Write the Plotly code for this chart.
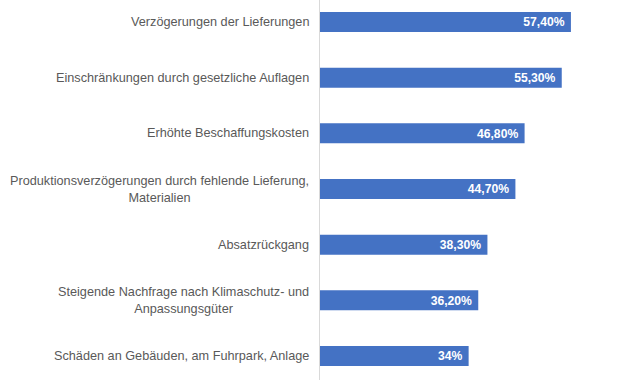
import plotly.graph_objects as go

categories = [
    "Verzögerungen der Lieferungen",
    "Einschränkungen durch gesetzliche Auflagen",
    "Erhöhte Beschaffungskosten",
    "Produktionsverzögerungen durch fehlende Lieferung,<br>Materialien",
    "Absatzrückgang",
    "Steigende Nachfrage nach Klimaschutz- und<br>Anpassungsgüter",
    "Schäden an Gebäuden, am Fuhrpark, Anlage",
]
values = [57.4, 55.3, 46.8, 44.7, 38.3, 36.2, 34.0]
value_labels = ["57,40%", "55,30%", "46,80%", "44,70%", "38,30%", "36,20%", "34%"]

ypos = list(range(len(categories)))

fig = go.Figure()
fig.add_trace(go.Bar(
    x=values,
    y=ypos,
    orientation="h",
    width=0.36,
    marker=dict(color="#4472C4", line=dict(width=0)),
    text=[t + "\u00a0" for t in value_labels],
    textposition="inside",
    insidetextanchor="end",
    textangle=0,
    textfont=dict(family="Liberation Sans, Arial, sans-serif", size=13, color="white", weight="bold"),
    hoverinfo="skip",
))

for i, c in enumerate(categories):
    fig.add_annotation(
        x=0, xref="paper", xanchor="right", xshift=-9,
        y=i, yref="y", yanchor="middle",
        text=c, showarrow=False, align="center",
        font=dict(family="Liberation Sans, Arial, sans-serif", size=12.7, color="#595959"),
    )

fig.update_layout(
    width=640, height=380,
    margin=dict(l=320, r=0, t=0, b=0),
    paper_bgcolor="white", plot_bgcolor="white",
    showlegend=False,
    hovermode=False,
    xaxis=dict(range=[0, 73.2], showgrid=False, zeroline=False, showticklabels=False,
               showline=False, fixedrange=True),
    yaxis=dict(range=[6.431, -0.395], showgrid=False, zeroline=False, showticklabels=False,
               showline=True, linecolor="#d9d9d9", linewidth=1, ticks="", fixedrange=True),
    uniformtext=dict(minsize=8, mode="show"),
)

fig.write_html("out.html", config={"displayModeBar": False, "staticPlot": True},
               post_script="document.body.style.margin='0';")
